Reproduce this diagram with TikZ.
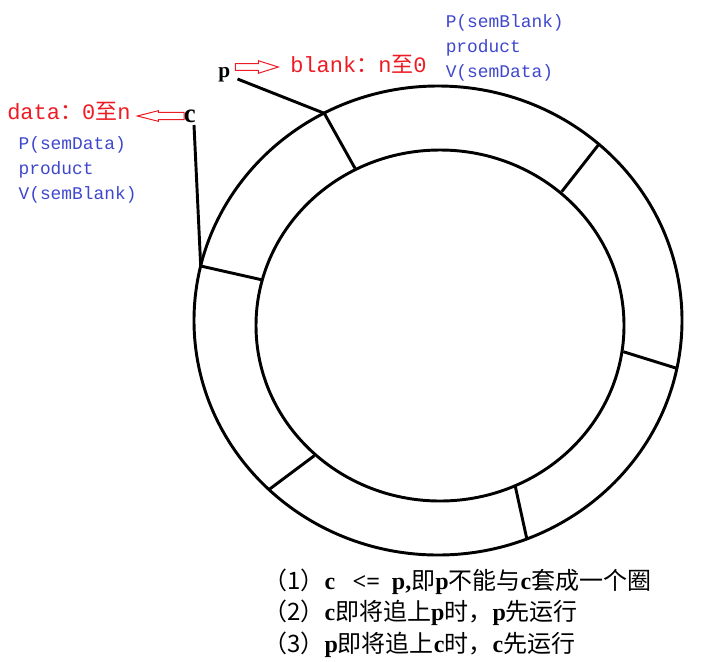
\documentclass[tikz,border=0pt]{standalone}
\usepackage{fontspec}
\setmainfont{Liberation Serif}
\setmonofont{Liberation Mono}
\newfontfamily\cjk{Noto Sans CJK SC}
\newcommand\zh[1]{{\cjk\mdseries #1}}
\definecolor{pred}{RGB}{237,28,36}
\definecolor{pblue}{RGB}{63,72,204}
\tikzset{
  ring/.style={line width=2.2pt},
  ptr/.style={font=\bfseries\fontsize{16}{16}\selectfont, inner sep=0pt},
  redlbl/.style={text=pred, font=\ttfamily\fontsize{16.5}{16.5}\selectfont, inner sep=0pt},
  bluelbl/.style={text=pblue, font=\ttfamily\fontsize{13.4}{18.4}\selectfont, align=left, inner sep=0pt},
  notelbl/.style={font=\bfseries\fontsize{18}{24}\selectfont, inner sep=0pt},
  hollowarr/.style={draw=pred, line width=0.75pt, line join=miter}
}
\begin{document}
\begin{tikzpicture}[x=0.75pt, y=-0.75pt]
  \useasboundingbox (0,0) rectangle (713,661);
  % ring buffer
  \draw[ring] (438,320.5) ellipse (244 and 234.5);
  \draw[ring] (440,325.5) ellipse (184 and 175.5);
  \foreach \ox/\oy/\ix/\iy [count=\k] in {324.3/113.3/355/168.3, 598.3/145/561.7/191.7,
      676.7/368.3/623.3/351.7, 526.7/538.3/515/485, 269.3/489.3/314.3/455.7, 200.7/266/262.7/280}
  {
    \coordinate (o\k) at (\ox,\oy);
    \coordinate (i\k) at (\ix,\iy);
    \draw[ring] (o\k) -- (i\k);
  }
  % producer p
  \node[ptr, anchor=base west] (plbl) at (218,77) {p};
  \node[redlbl, anchor=base west] (blanklbl) at (290,72) {blank\zh{：}n\zh{至}0};
  \node[bluelbl, anchor=base west] (prodops) at (445.5,77) {P(semBlank)\\product\\V(semData)};
  \coordinate (parr) at (235.3,67);
  \draw[hollowarr] (parr) -- ++(0,-3.4) -- ++(23,0) -- ++(0,-2.9) -- ++(20,6.3)
    -- ++(-20,6.3) -- ++(0,-2.9) -- ++(-23,0) -- cycle;
  \coordinate (pend) at (237.5,79);
  \draw[ring] (pend) -- (o1);
  % consumer c
  \node[ptr, font=\bfseries\fontsize{20}{20}\selectfont, anchor=base west] (clbl) at (183.5,122.7) {c};
  \node[redlbl, anchor=base west] (datalbl) at (7,119.5) {data\zh{：}0\zh{至}n};
  \node[bluelbl, anchor=base west] (consops) at (18.3,199) {P(semData)\\product\\V(semBlank)};
  \coordinate (carr) at (184,116);
  \draw[hollowarr] (carr) -- ++(0,-3.6) -- ++(-25.7,0) -- ++(0,-1.7) -- ++(-21,5.3)
    -- ++(21,5.3) -- ++(0,-1.7) -- ++(25.7,0) -- cycle;
  \coordinate (cend) at (194,125);
  \draw[ring] (cend) -- (o6);
  % rules
  \node[notelbl, anchor=base west] (note1) at (263,589) {\zh{（1）}c\hspace{13pt}<=\hspace{9pt}p,\zh{即}p\zh{不能与}c\zh{套成一个圈}};
  \node[notelbl, anchor=base west] (note2) at (263,620.5) {\zh{（2）}c\zh{即将追上}p\zh{时，}p\zh{先运行}};
  \node[notelbl, anchor=base west] (note3) at (263,652) {\zh{（3）}p\zh{即将追上}c\zh{时，}c\zh{先运行}};
\end{tikzpicture}
\end{document}
